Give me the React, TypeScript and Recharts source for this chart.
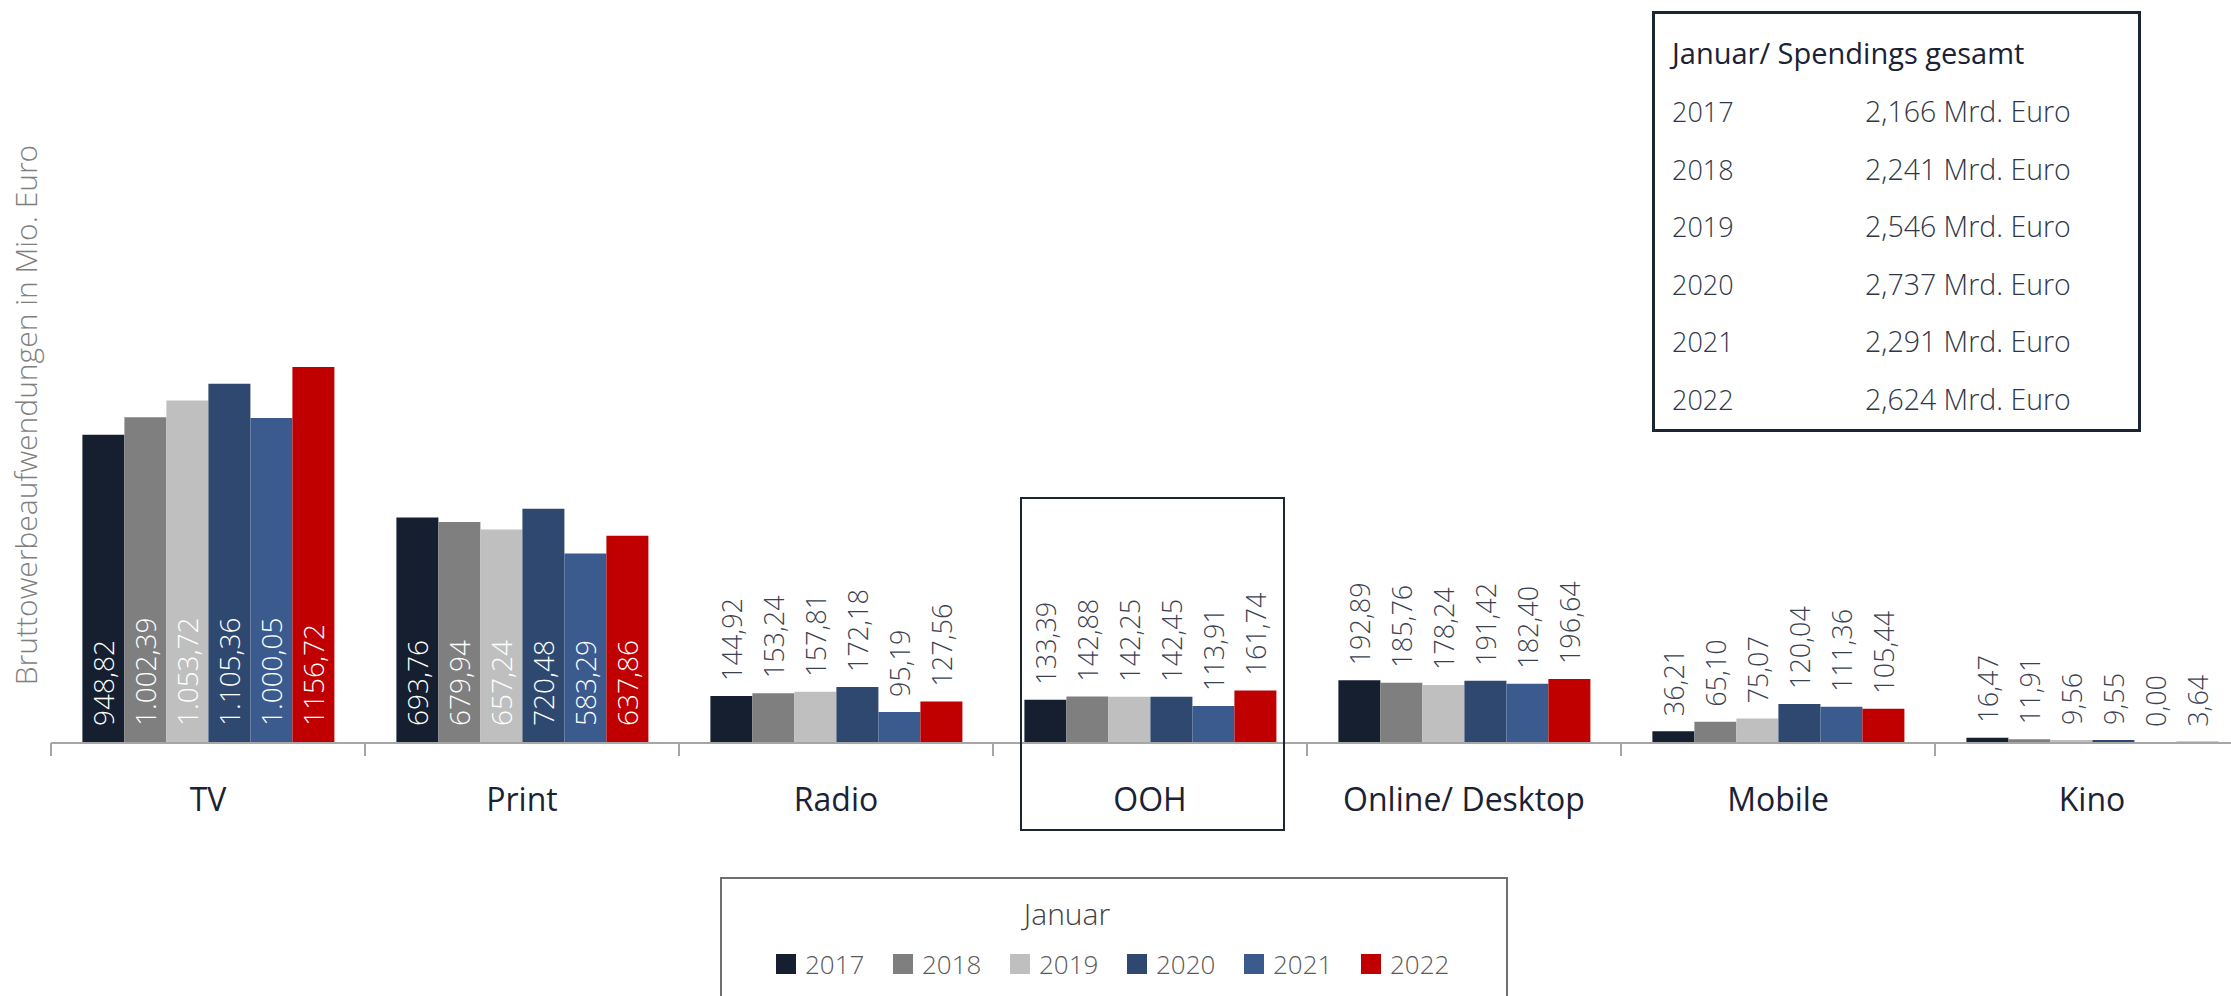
import React from "react";
import { BarChart, Bar, XAxis, YAxis, LabelList } from "recharts";

const categories = ["TV", "Print", "Radio", "OOH", "Online/ Desktop", "Mobile", "Kino"];
const v2017 = [948.82, 693.76, 144.92, 133.39, 192.89, 36.21, 16.47];
const v2018 = [1002.39, 679.94, 153.24, 142.88, 185.76, 65.1, 11.91];
const v2019 = [1053.72, 657.24, 157.81, 142.25, 178.24, 75.07, 9.56];
const v2020 = [1105.36, 720.48, 172.18, 142.45, 191.42, 120.04, 9.55];
const v2021 = [1000.05, 583.29, 95.19, 113.91, 182.4, 111.36, 0.0];
const v2022 = [1156.72, 637.86, 127.56, 161.74, 196.64, 105.44, 3.64];

const years = ["2017", "2018", "2019", "2020", "2021", "2022"];
const seriesValues = [v2017, v2018, v2019, v2020, v2021, v2022];
const colors = ["#151f30", "#7f7f7f", "#bfbfbf", "#2e4870", "#3b5b8f", "#c00000"];
const groupThousands = [true, true, true, true, true, false];

const totalYears = ["2017", "2018", "2019", "2020", "2021", "2022"];
const totalValues = ["2,166", "2,241", "2,546", "2,737", "2,291", "2,624"];

const yLabel = "Bruttowerbeaufwendungen in Mio. Euro";
const legendTitle = "Januar";
const tableTitle = "Januar/ Spendings gesamt";

const FONT = "'Open Sans', 'Noto Sans', sans-serif";

const data = categories.map((c, i) => {
  const row: Record<string, any> = { category: c };
  years.forEach((y, s) => {
    row[y] = seriesValues[s][i];
  });
  return row;
});

function formatDe(v: number, group: boolean): string {
  const fixed = v.toFixed(2);
  const [intPart, dec] = fixed.split(".");
  let ip = intPart;
  if (group) ip = intPart.replace(/\B(?=(\d{3})+(?!\d))/g, ".");
  return ip + "," + dec;
}

const makeLabel = (group: boolean) => (props: any) => {
  const { x, y, width, height, value } = props;
  const cx = Number(x) + Number(width) / 2;
  const text = formatDe(Number(value), group);
  if (Number(value) > 400) {
    const by = Number(y) + Number(height) - 17;
    return (
      <text
        x={cx}
        y={by}
        transform={`rotate(-90 ${cx} ${by})`}
        textAnchor="start"
        dominantBaseline="central"
        fill="#ffffff"
        fontSize={28}
        fontWeight={300}
        fontFamily={FONT}
      >
        {text}
      </text>
    );
  }
  const ty = Number(y) - 15;
  return (
    <text
      x={cx}
      y={ty}
      transform={`rotate(-90 ${cx} ${ty})`}
      textAnchor="start"
      dominantBaseline="central"
      fill="#3b4252"
      fontSize={27}
      fontWeight={300}
      fontFamily={FONT}
    >
      {text}
    </text>
  );
};

const CategoryTick = (props: any) => {
  const { x, y, payload, width, visibleTicksCount } = props;
  const half =
    payload && typeof payload.offset === "number" && payload.offset > 0
      ? payload.offset
      : Number(width) / (Number(visibleTicksCount) * 2);
  const bx = Number(x) - half;
  return (
    <g>
      <line x1={bx} x2={bx} y1={y} y2={Number(y) + 13} stroke="#a6a6a6" strokeWidth={2} />
      <text
        x={x}
        y={Number(y) + 55}
        textAnchor="middle"
        dominantBaseline="central"
        fill="#1a2233"
        fontSize={32}
        fontFamily={FONT}
      >
        {payload.value}
      </text>
    </g>
  );
};

export default function App() {
  return (
    <div
      style={{
        position: "fixed",
        left: 0,
        top: 0,
        width: 2231,
        height: 996,
        overflow: "hidden",
        background: "#ffffff",
        fontFamily: FONT,
      }}
    >
      <BarChart
        width={2260}
        height={996}
        data={data}
        margin={{ top: 93, right: 11, bottom: 173, left: 51 }}
        barCategoryGap="10%"
        barGap={0}
      >
        <XAxis
          dataKey="category"
          height={80}
          axisLine={{ stroke: "#a6a6a6", strokeWidth: 2 }}
          tickLine={false}
          tickSize={0}
          tickMargin={0}
          tick={<CategoryTick />}
          interval={0}
        />
        <YAxis
          width={0}
          domain={[0, 2000]}
          ticks={[0, 2000]}
          tick={false}
          tickLine={false}
          axisLine={{ stroke: "#a6a6a6", strokeWidth: 2 }}
        />
        {years.map((y, s) => (
          <Bar key={y} dataKey={y} fill={colors[s]} minPointSize={1} isAnimationActive={false}>
            <LabelList dataKey={y} content={makeLabel(groupThousands[s])} />
          </Bar>
        ))}
      </BarChart>

      {/* Y axis title */}
      <div
        style={{
          position: "absolute",
          left: 26,
          top: 415,
          transform: "translate(-50%, -50%) rotate(-90deg)",
          whiteSpace: "nowrap",
          fontSize: 30,
          fontWeight: 300,
          color: "#7f7f7f",
          lineHeight: 1,
        }}
      >
        {yLabel}
      </div>

      {/* OOH highlight box */}
      <div
        style={{
          position: "absolute",
          left: 1020,
          top: 497,
          width: 265,
          height: 334,
          border: "2px solid #1c2533",
          boxSizing: "border-box",
        }}
      />

      {/* Totals table */}
      <div
        style={{
          position: "absolute",
          left: 1652,
          top: 11,
          width: 489,
          height: 421,
          border: "3px solid #1c2533",
          boxSizing: "border-box",
        }}
      >
        <div
          style={{
            position: "absolute",
            left: 17,
            top: 38,
            transform: "translateY(-50%)",
            fontSize: 29,
            color: "#1a2233",
            whiteSpace: "nowrap",
            lineHeight: 1,
          }}
        >
          {tableTitle}
        </div>
        {totalYears.map((y, i) => (
          <React.Fragment key={y}>
            <div
              style={{
                position: "absolute",
                left: 17,
                top: 97 + i * 57.5,
                transform: "translateY(-50%)",
                fontSize: 27,
                fontWeight: 300,
                color: "#2f3747",
                whiteSpace: "nowrap",
                lineHeight: 1,
              }}
            >
              {y}
            </div>
            <div
              style={{
                position: "absolute",
                left: 210,
                top: 97 + i * 57.5,
                transform: "translateY(-50%)",
                fontSize: 28.5,
                fontWeight: 300,
                color: "#2f3747",
                whiteSpace: "nowrap",
                lineHeight: 1,
              }}
            >
              {totalValues[i]} Mrd. Euro
            </div>
          </React.Fragment>
        ))}
      </div>

      {/* Legend */}
      <div
        style={{
          position: "absolute",
          left: 720,
          top: 877,
          width: 788,
          height: 140,
          border: "2px solid #6f6f6f",
          boxSizing: "border-box",
        }}
      >
        <div
          style={{
            position: "absolute",
            left: 345,
            top: 35,
            transform: "translate(-50%, -50%)",
            fontSize: 30,
            fontWeight: 300,
            color: "#404040",
            whiteSpace: "nowrap",
            lineHeight: 1,
          }}
        >
          {legendTitle}
        </div>
        {years.map((y, s) => (
          <div
            key={y}
            style={{
              position: "absolute",
              left: 54 + s * 117,
              top: 85,
              transform: "translateY(-50%)",
              display: "flex",
              alignItems: "center",
              whiteSpace: "nowrap",
            }}
          >
            <div style={{ width: 20, height: 20, background: colors[s], marginRight: 9 }} />
            <span style={{ fontSize: 26, fontWeight: 300, color: "#595959", lineHeight: 1 }}>{y}</span>
          </div>
        ))}
      </div>
    </div>
  );
}
